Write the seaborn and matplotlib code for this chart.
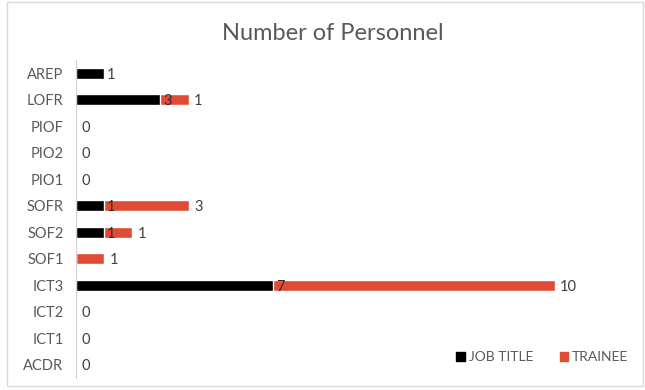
import numpy as np
import pandas as pd
import matplotlib
matplotlib.use("Agg")
import matplotlib.pyplot as plt
import seaborn as sns
from matplotlib.patches import Rectangle

categories = ["AREP", "LOFR", "PIOF", "PIO2", "PIO1", "SOFR", "SOF2", "SOF1",
              "ICT3", "ICT2", "ICT1", "ACDR"]
job_title = [1, 3, 0, 0, 0, 1, 1, 0, 7, 0, 0, 0]
trainee = [0, 1, 0, 0, 0, 3, 1, 1, 10, 0, 0, 0]

black = "#000000"
red = "#E04B36"
grey = "#595959"

df = pd.DataFrame({"cat": categories, "job": job_title, "trainee": trainee})
df["total"] = df["job"] + df["trainee"]

sns.set_style("white")
plt.rcParams["font.family"] = ["Lato", "DejaVu Sans"]

fig = plt.figure(figsize=(6.45, 3.9), dpi=100)
ax = fig.add_axes([76 / 645, 1 - 378 / 390, 549 / 645, 318 / 390])

sns.barplot(data=df, y="cat", x="total", color=red, orient="h", width=0.42,
            saturation=1, ax=ax, order=categories)
sns.barplot(data=df, y="cat", x="job", color=black, orient="h", width=0.42,
            saturation=1, ax=ax, order=categories)

ax.set_xlim(0, 19.5)
ax.set_ylim(len(categories) - 0.5, -0.5)

for i, row in df.iterrows():
    if row["job"] > 0:
        col = "#3a2a28" if row["trainee"] > 0 else "#404040"
        ax.text(row["job"] + 0.1, i + 0.05, str(row["job"]), va="center",
                ha="left", fontsize=10.5, color=col)
    if row["trainee"] > 0:
        ax.text(row["total"] + 0.2, i + 0.05, str(row["trainee"]), va="center",
                ha="left", fontsize=10.5, color="#404040")
    if row["total"] == 0:
        ax.text(0.2, i + 0.05, "0", va="center", ha="left", fontsize=10.5,
                color="#404040")

ax.set_xlabel("")
ax.set_ylabel("")
ax.set_xticks([])
ax.tick_params(axis="y", length=0, pad=9, labelsize=10.5, labelcolor=grey)
for s in ["top", "right", "bottom"]:
    ax.spines[s].set_visible(False)
ax.spines["left"].set_color("#d0d0d0")
ax.spines["left"].set_linewidth(0.8)

fig.text(333 / 645, 1 - 33 / 390, "Number of Personnel", ha="center",
         va="center", fontsize=17, color=grey)

# legend
handles = [Rectangle((0, 0), 1, 1, color=black), Rectangle((0, 0), 1, 1, color=red)]
fig.legend(handles, ["JOB TITLE", "TRAINEE"], loc="center right",
           bbox_to_anchor=(641 / 645, 1 - 357 / 390), ncol=2, frameon=False,
           fontsize=10, labelcolor=grey, handlelength=0.6, handleheight=0.6,
           handletextpad=0.3, columnspacing=1.9)

fig.patches.append(Rectangle((7 / 645, 4 / 390), 636 / 645, 384 / 390,
                             transform=fig.transFigure, fill=False,
                             edgecolor="#d9d9d9", linewidth=1))

fig.savefig("out.png", dpi=100)
